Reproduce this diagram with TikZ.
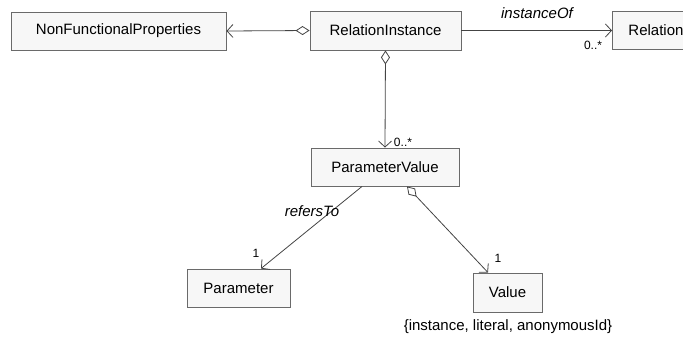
\documentclass[tikz,border=0pt]{standalone}
\usepackage{fontspec}
\setmainfont{Liberation Sans}
\usetikzlibrary{arrows.meta}
\definecolor{boxfill}{HTML}{F7F7F7}
\definecolor{boxline}{HTML}{6A6A6A}
\definecolor{wire}{HTML}{444444}
\tikzset{
  cls/.style={draw=boxline, fill=boxfill, line width=0.9pt, inner sep=0pt,
    font=\fontsize{15}{17}\selectfont, anchor=center},
  assoc/.style={draw=wire, line width=0.8pt},
  agg/.style={assoc, {Diamond[open, length=14pt, width=9pt, line width=0.8pt]}-{Straight Barb[length=6pt, width=13pt, line width=0.8pt]}},
  nav/.style={assoc, -{Straight Barb[length=6pt, width=13pt, line width=0.8pt]}},
  mult/.style={font=\fontsize{12}{13}\selectfont, inner sep=0pt},
  role/.style={font=\fontsize{15}{17}\selectfont\itshape, inner sep=0pt}
}
\begin{document}
\begin{tikzpicture}[x=1pt, y=-1pt]
  \useasboundingbox (0,0) rectangle (683,338);
  \begin{scope}
    \clip (0,0) rectangle (683,338);
    % classes
    \node[cls, minimum width=215pt, minimum height=38pt] (nfp) at (118.5,31) {NonFunctionalProperties};
    \node[cls, minimum width=151pt, minimum height=39pt] (ri) at (385.5,30.5) {RelationInstance};
    \node[cls, minimum width=96pt, minimum height=38pt, anchor=west] (rel) at (612,30.5) {\hspace*{16pt}Relation\hfill\hspace*{26pt}};
    \node[cls, minimum width=148pt, minimum height=38pt] (pv) at (385,167) {ParameterValue};
    \node[cls, minimum width=103pt, minimum height=38pt] (par) at (238.5,288) {Parameter};
    \node[cls, minimum width=69pt, minimum height=39pt] (val) at (507.5,292.5) {Value};
    \node[font=\fontsize{15}{17}\selectfont, inner sep=0pt] (vals) at (508,327) {\{instance, literal, anonymousId\}};

    % associations
    \draw[agg] (ri.west) -- (nfp.east);
    \draw[nav] (ri.east) -- (rel.west);
    \draw[agg] (ri.south) -- (pv.north);
    \draw[nav] ([xshift=-23pt]pv.south) -- ([xshift=22.5pt]par.north);
    \draw[agg] ([xshift=22pt]pv.south) -- ([xshift=-19.5pt]val.north);

    % role names and multiplicities
    \node[role] (lio) at (537,13) {instanceOf};
    \node[mult] (mrel) at (593,45) {0..*};
    \node[mult] (mpv) at (403,142) {0..*};
    \node[role] (lrt) at (312,211) {refersTo};
    \node[mult] (mpar) at (256,253) {1};
    \node[mult] (mval) at (498,258) {1};
  \end{scope}
\end{tikzpicture}
\end{document}
